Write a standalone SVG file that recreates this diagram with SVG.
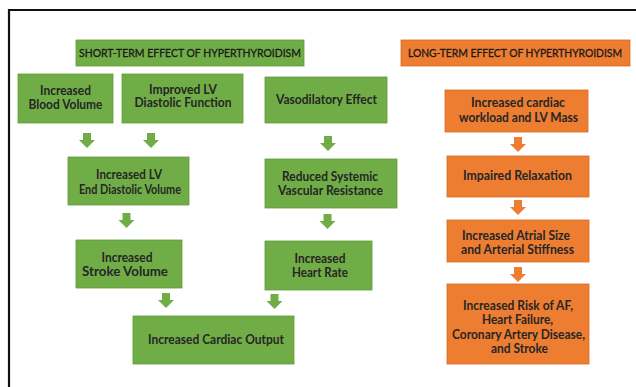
<svg xmlns="http://www.w3.org/2000/svg" xmlns:xlink="http://www.w3.org/1999/xlink" width="636" height="387" viewBox="0 0 636 387">
<defs>
<style>
.g{fill:#70AD47;stroke:#5f9c3b;stroke-width:0.8}
.o{fill:#ED7D31;stroke:#d86a22;stroke-width:0.8}
.t{font-family:"Lato","Open Sans","Liberation Sans",sans-serif;font-weight:bold;font-size:12.5px;fill:#262626;text-anchor:middle}
.h{font-family:"Lato","Liberation Sans",sans-serif;font-size:10.8px;fill:#1a1a1a;text-anchor:middle;stroke:#1a1a1a;stroke-width:0.3}
.ag{fill:#70AD47}
.ao{fill:#ED7D31}
</style>
<path id="arr" d="M-4,0 H4 V7 H8 L0,15 L-8,7 H-4 Z"/>
</defs>
<rect width="636" height="387" fill="#fff"/>
<path d="M9,387 V10 H636" fill="none" stroke="#111" stroke-width="2.2"/>

<g id="short-header"><rect class="g" x="76" y="40" width="228" height="26"/><text class="h" x="190" y="57" textLength="222" lengthAdjust="spacingAndGlyphs">SHORT-TERM EFFECT OF HYPERTHYROIDISM</text></g>
<g id="long-header"><rect class="o" x="401" y="40" width="229" height="26"/><text class="h" x="515" y="57" textLength="214" lengthAdjust="spacingAndGlyphs">LONG-TERM EFFECT OF HYPERTHYROIDISM</text></g>

<g id="blood-volume"><rect class="g" x="18" y="74" width="95" height="49"/><text class="t" x="65.5" y="95" textLength="51" lengthAdjust="spacingAndGlyphs">Increased</text><text class="t" x="65.5" y="108.5" textLength="74" lengthAdjust="spacingAndGlyphs">Blood Volume</text></g>
<g id="lv-diastolic"><rect class="g" x="122" y="74" width="121" height="49"/><text class="t" x="183" y="93.5" textLength="68" lengthAdjust="spacingAndGlyphs">Improved LV</text><text class="t" x="183" y="107" textLength="97" lengthAdjust="spacingAndGlyphs">Diastolic Function</text></g>
<g id="vasodilatory"><rect class="g" x="265" y="77" width="122" height="46"/><text class="t" x="326.5" y="103.5" textLength="101" lengthAdjust="spacingAndGlyphs">Vasodilatory Effect</text></g>
<g id="lv-edv"><rect class="g" x="68" y="157" width="121" height="48"/><text class="t" x="129" y="179" textLength="66" lengthAdjust="spacingAndGlyphs">Increased LV</text><text class="t" x="130" y="194" textLength="102" lengthAdjust="spacingAndGlyphs">End Diastolic Volume</text></g>
<g id="svr"><rect class="g" x="265" y="159" width="132" height="49"/><text class="t" x="330" y="181" textLength="96" lengthAdjust="spacingAndGlyphs">Reduced Systemic</text><text class="t" x="330.5" y="195" textLength="105" lengthAdjust="spacingAndGlyphs">Vascular Resistance</text></g>
<g id="stroke-volume"><rect class="g" x="76" y="240" width="106" height="48"/><text class="t" x="127" y="262" textLength="51" lengthAdjust="spacingAndGlyphs">Increased</text><text class="t" x="125" y="276" textLength="86" lengthAdjust="spacingAndGlyphs">Stroke Volume</text></g>
<g id="heart-rate"><rect class="g" x="265" y="241" width="107" height="49"/><text class="t" x="320" y="263" textLength="51" lengthAdjust="spacingAndGlyphs">Increased</text><text class="t" x="320" y="277" textLength="56" lengthAdjust="spacingAndGlyphs">Heart Rate</text></g>
<g id="cardiac-output"><rect class="g" x="133" y="316" width="161" height="48"/><text class="t" x="216" y="344" textLength="136" lengthAdjust="spacingAndGlyphs">Increased Cardiac Output</text></g>

<g id="lv-mass"><rect class="o" x="445" y="90" width="143" height="42"/><text class="t" x="518" y="107" textLength="94" lengthAdjust="spacingAndGlyphs">Increased cardiac</text><text class="t" x="518.5" y="122" textLength="119" lengthAdjust="spacingAndGlyphs">workload and LV Mass</text></g>
<g id="impaired-relaxation"><rect class="o" x="447" y="156" width="142" height="41"/><text class="t" x="517.5" y="180" textLength="109" lengthAdjust="spacingAndGlyphs">Impaired Relaxation</text></g>
<g id="atrial-size"><rect class="o" x="447" y="220" width="142" height="42"/><text class="t" x="516" y="240" textLength="108" lengthAdjust="spacingAndGlyphs">Increased Atrial Size</text><text class="t" x="517.5" y="254" textLength="113" lengthAdjust="spacingAndGlyphs">and Arterial Stiffness</text></g>
<g id="risk"><rect class="o" x="447" y="284" width="142" height="80"/><text class="t" x="518" y="310" textLength="110" lengthAdjust="spacingAndGlyphs">Increased Risk of AF,</text><text class="t" x="517.5" y="324" textLength="71" lengthAdjust="spacingAndGlyphs">Heart Failure,</text><text class="t" x="518.5" y="338.5" textLength="133" lengthAdjust="spacingAndGlyphs">Coronary Artery Disease,</text><text class="t" x="519.5" y="353" textLength="57" lengthAdjust="spacingAndGlyphs">and Stroke</text></g>

<g id="connectors">
<use href="#arr" class="ag" x="87" y="133"/>
<use href="#arr" class="ag" x="151" y="133"/>
<use href="#arr" class="ag" x="328" y="136"/>
<use href="#arr" class="ag" x="126.5" y="213"/>
<use href="#arr" class="ag" x="327.5" y="214"/>
<use href="#arr" class="ag" x="166" y="293"/>
<use href="#arr" class="ag" x="274.5" y="294"/>
<use href="#arr" class="ao" x="518" y="137"/>
<use href="#arr" class="ao" x="518" y="200"/>
<use href="#arr" class="ao" x="518" y="267"/>
</g>
</svg>
